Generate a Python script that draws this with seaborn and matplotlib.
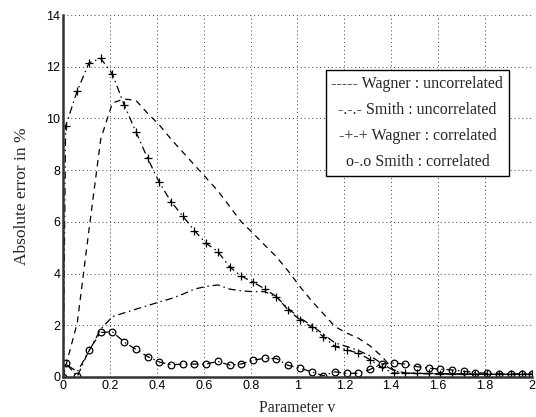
import matplotlib
matplotlib.use("Agg")
import matplotlib.pyplot as plt
import seaborn as sns
import pandas as pd

v = [0.0, 0.01, 0.06, 0.11, 0.16, 0.21, 0.26, 0.31, 0.36, 0.41, 0.46, 0.51, 0.56,
     0.61, 0.66, 0.71, 0.76, 0.81, 0.86, 0.91, 0.96, 1.01, 1.06, 1.11, 1.16, 1.21,
     1.26, 1.31, 1.36, 1.41, 1.46, 1.51, 1.56, 1.61, 1.66, 1.71, 1.76, 1.81, 1.86,
     1.91, 1.96, 2.0]

wagner_uncorr = [0.0, 0.4, 2.1, 5.7, 9.2, 10.6, 10.75, 10.7, 10.2, 9.75, 9.2, 8.7, 8.2,
                 7.7, 7.2, 6.6, 6.0, 5.56, 5.1, 4.65, 4.1, 3.5, 2.95, 2.45, 1.95, 1.7,
                 1.5, 1.2, 0.8, 0.27, 0.15, 0.13, 0.12, 0.12, 0.11, 0.11, 0.1, 0.1, 0.1,
                 0.1, 0.1, 0.1]

smith_uncorr = [0.0, 0.5, 0.2, 1.0, 1.85, 2.33, 2.48, 2.62, 2.76, 2.9, 3.03, 3.2, 3.4,
                3.5, 3.56, 3.4, 3.33, 3.3, 3.3, 3.1, 2.65, 2.28, 2.0, 1.65, 1.32, 1.18,
                1.02, 0.82, 0.52, 0.25, 0.15, 0.14, 0.13, 0.12, 0.12, 0.11, 0.11, 0.1,
                0.1, 0.1, 0.1, 0.1]

wagner_corr = [0.0, 9.7, 11.07, 12.15, 12.32, 11.72, 10.52, 9.49, 8.46, 7.53, 6.78, 6.23,
               5.66, 5.17, 4.85, 4.26, 3.9, 3.67, 3.41, 3.11, 2.59, 2.22, 1.93, 1.56,
               1.18, 1.05, 0.92, 0.67, 0.37, 0.15, 0.15, 0.14, 0.14, 0.13, 0.12, 0.12,
               0.11, 0.1, 0.1, 0.1, 0.1, 0.1]

smith_corr = [0.0, 0.54, 0.02, 1.04, 1.72, 1.75, 1.35, 1.07, 0.79, 0.58, 0.47, 0.5, 0.5,
              0.5, 0.6, 0.46, 0.5, 0.65, 0.72, 0.71, 0.45, 0.34, 0.2, 0.05, 0.2, 0.14,
              0.14, 0.29, 0.5, 0.54, 0.5, 0.4, 0.34, 0.3, 0.27, 0.22, 0.17, 0.14, 0.13,
              0.12, 0.12, 0.12]

legend_lines = ["----- Wagner : uncorrelated",
                "-.-.- Smith : uncorrelated",
                "-+-+ Wagner : correlated",
                "o-.o Smith : correlated"]

x_ticks = [0, 0.2, 0.4, 0.6, 0.8, 1, 1.2, 1.4, 1.6, 1.8, 2]
x_tick_labels = ["0", "0.2", "0.4", "0.6", "0.8", "1", "1.2", "1.4", "1.6", "1.8", "2"]
y_ticks = [0, 2, 4, 6, 8, 10, 12, 14]

df = pd.DataFrame({"v": v, "wu": wagner_uncorr, "su": smith_uncorr,
                   "wc": wagner_corr, "sc": smith_corr})

sns.set_style("white")
plt.rcParams["font.family"] = ["Liberation Sans", "DejaVu Sans"]

fig = plt.figure(figsize=(5.36, 4.17), dpi=100)
ax = fig.add_axes([0.118, 0.096, 0.874, 0.868])

lw = 0.9
dashdot = (0, (6, 3, 1.2, 3))
sns.lineplot(data=df, x="v", y="wu", ax=ax, color="k", lw=lw, sort=False)
ax.lines[-1].set_linestyle((0, (5, 4)))
sns.lineplot(data=df, x="v", y="su", ax=ax, color="k", lw=lw, sort=False)
ax.lines[-1].set_linestyle(dashdot)
sns.lineplot(data=df, x="v", y="wc", ax=ax, color="k", lw=lw, sort=False,
             marker="+", markersize=5.5, markeredgewidth=0.9,
             markeredgecolor="k")
ax.lines[-1].set_linestyle(dashdot)
sns.lineplot(data=df, x="v", y="sc", ax=ax, color="k", lw=lw, sort=False,
             marker="o", markersize=4.8, markerfacecolor="none",
             markeredgecolor="k", markeredgewidth=0.9)
ax.lines[-1].set_linestyle(dashdot)

ax.set_xlim(0, 2)
ax.set_ylim(0, 14)
ax.set_xticks(x_ticks)
ax.set_xticklabels(x_tick_labels)
ax.set_yticks(y_ticks)
ax.tick_params(direction="in", length=3, width=0.8, labelsize=9, pad=2,
               colors="k")
ax.grid(True, linestyle=(0, (1, 3)), color="0.25", linewidth=0.7)
for s in ["top", "right"]:
    ax.spines[s].set_visible(False)
for s in ["left", "bottom"]:
    ax.spines[s].set_linewidth(1.8)
    ax.spines[s].set_color("0.2")

serif = ["Liberation Serif", "DejaVu Serif"]
ax.set_xlabel("Parameter v", family=serif, fontsize=11.5, labelpad=6)
ax.set_ylabel("Absolute error in %", family=serif, fontsize=12.5, labelpad=12)

ax.text(0.756, 0.702, "\n".join(legend_lines), transform=ax.transAxes,
        ha="center", va="center", multialignment="center", family=serif,
        fontsize=11.5, linespacing=1.85,
        bbox=dict(boxstyle="square,pad=0.35", facecolor="white",
                  edgecolor="k", linewidth=1.0), zorder=5)

fig.savefig("out.png", dpi=100)
